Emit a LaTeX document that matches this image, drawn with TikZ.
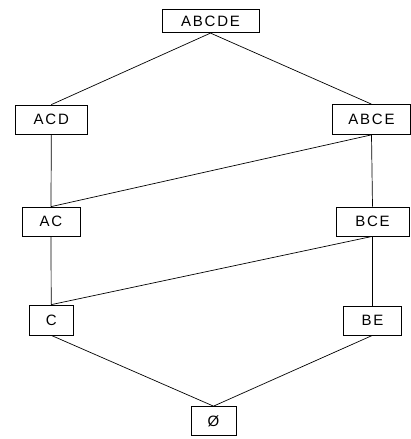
\documentclass[tikz,border=0pt]{standalone}
\usepackage{fontspec}
\setmainfont{Liberation Sans}[LetterSpace=12]
\begin{document}
\begin{tikzpicture}[x=1pt,y=1pt,
  setbox/.style={draw, line width=0.7pt, inner sep=0pt, font=\fontsize{15}{17}\selectfont, minimum height=29pt},
  edge/.style={line width=0.7pt}]
\useasboundingbox (0,0) rectangle (411,439);
\node[setbox, minimum width=97pt, minimum height=23.5pt] (abcde) at (210.5,418) {ABCDE};
\node[setbox, minimum width=72pt] (acd) at (51.3,319.5) {ACD};
\node[setbox, minimum width=78pt, minimum height=30pt] (abce) at (371.5,319.5) {ABCE};
\node[setbox, minimum width=73pt] (bce) at (372.5,217.5) {BCE};
\node[setbox, minimum width=58pt] (ac) at (51,217.5) {AC};
\node[setbox, minimum width=44pt, minimum height=30pt] (c) at (51.2,119) {C};
\node[setbox, minimum width=58pt] (be) at (372.5,118.5) {BE};
\node[setbox, minimum width=45pt] (empty) at (213.5,18) {Ø};
\draw[edge] (abcde.south) -- (acd.north);
\draw[edge] (abcde.south) -- (abce.north);
\draw[edge] (acd.south) -- (ac.north);
\draw[edge] (abce.south) -- (ac.north);
\draw[edge] (abce.south) -- (bce.north);
\draw[edge] (ac.south) -- (c.north);
\draw[edge] (bce.south) -- (c.north);
\draw[edge] (bce.south) -- (be.north);
\draw[edge] (c.south) -- (empty.north);
\draw[edge] (be.south) -- (empty.north);
\end{tikzpicture}
\end{document}
